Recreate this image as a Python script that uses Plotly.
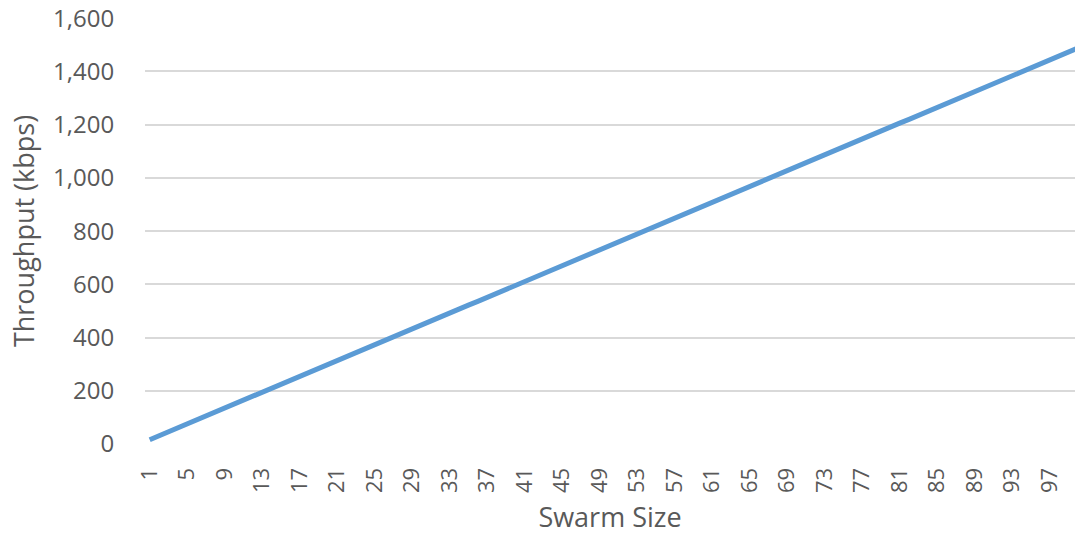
import plotly.graph_objects as go

swarm_size = list(range(1, 101))
throughput = [16, 31, 46, 60, 75, 90, 105, 120, 135, 150,
              165, 179, 194, 209, 224, 239, 254, 269, 284, 298,
              313, 328, 343, 358, 373, 388, 403, 417, 432, 447,
              462, 477, 492, 507, 522, 536, 551, 566, 581, 596,
              611, 626, 641, 655, 670, 685, 700, 715, 730, 745,
              759, 774, 789, 804, 819, 834, 849, 864, 878, 893,
              908, 923, 938, 953, 968, 983, 997, 1012, 1027, 1042,
              1057, 1072, 1087, 1101, 1116, 1131, 1146, 1161, 1176, 1191,
              1206, 1220, 1235, 1250, 1265, 1280, 1295, 1310, 1325, 1339,
              1354, 1369, 1384, 1399, 1414, 1429, 1443, 1458, 1473, 1488]
x_tick_values = list(range(1, 101, 4))
y_tick_values = [0, 200, 400, 600, 800, 1000, 1200, 1400, 1600]

font_family = "Open Sans, Lato, sans-serif"
text_color = "#595959"
grid_color = "#d9d9d9"

fig = go.Figure()
fig.add_trace(go.Scatter(
    x=swarm_size, y=throughput, mode="lines",
    line=dict(color="#5B9BD5", width=5),
    showlegend=False, hoverinfo="skip",
))

fig.update_layout(
    width=1075, height=537,
    margin=dict(l=145, r=0, t=18, b=93),
    paper_bgcolor="white", plot_bgcolor="white",
    font=dict(family=font_family, color=text_color, size=22),
)
fig.update_xaxes(
    range=[0.5, 99.7],
    tickmode="array", tickvals=x_tick_values,
    ticktext=[str(v) for v in x_tick_values],
    tickangle=-90,
    ticks="outside", ticklen=14, tickcolor="rgba(0,0,0,0)",
    showgrid=False, zeroline=False, showline=False,
    tickfont=dict(size=22, color=text_color),
    title=dict(text="Swarm Size", font=dict(size=27, color=text_color), standoff=16),
    automargin=False,
)
fig.update_yaxes(
    range=[0, 1601],
    tickmode="array", tickvals=y_tick_values,
    ticktext=[f"{v:,}" for v in y_tick_values],
    showgrid=True, gridcolor=grid_color, gridwidth=1.5,
    zeroline=False, showline=False,
    ticks="outside", ticklen=25, tickcolor="rgba(0,0,0,0)",
    tickfont=dict(size=24, color=text_color),
    title=dict(text="Throughput (kbps)", font=dict(size=27, color=text_color), standoff=10),
    automargin=False,
)

fig.write_html("out.html", config={"displayModeBar": False},
               post_script="document.body.style.margin='0';")
